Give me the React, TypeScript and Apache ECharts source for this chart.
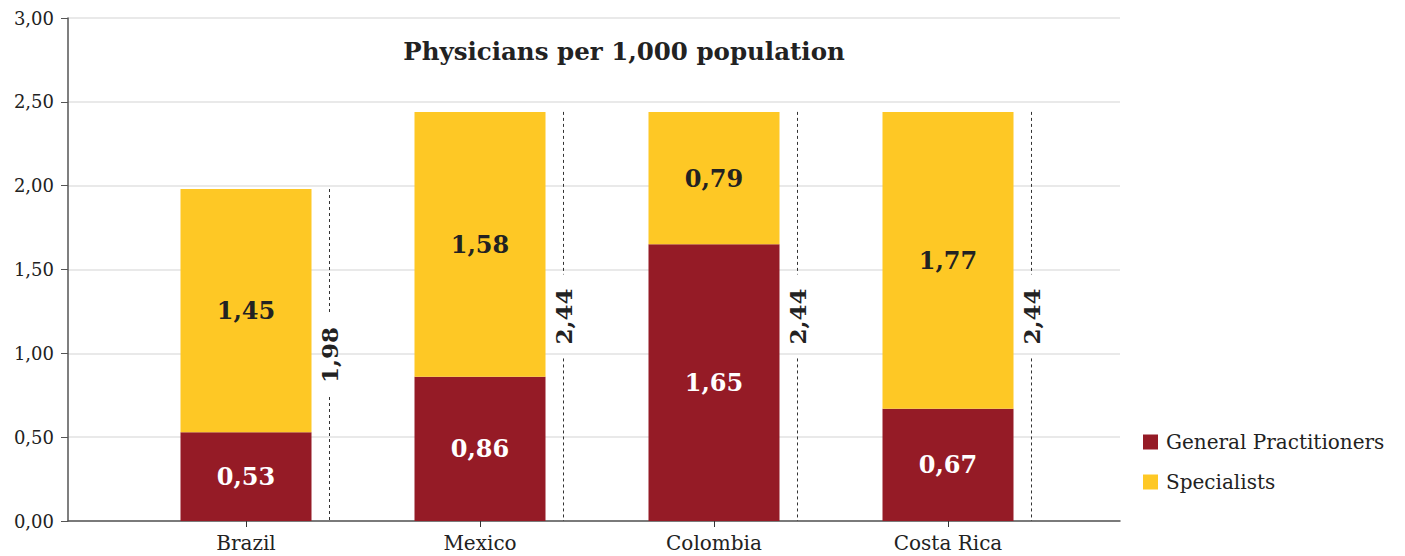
import React, { useEffect, useRef } from "react";
import * as echarts from "echarts";

// Physicians per 1,000 population, split by type
const countries = ["Brazil", "Mexico", "Colombia", "Costa Rica"];
const generalPractitioners = [0.53, 0.86, 1.65, 0.67];
const specialists = [1.45, 1.58, 0.79, 1.77];
const totals = countries.map((_, i) =>
  Math.round((generalPractitioners[i] + specialists[i]) * 100) / 100
);
const yTicks = [0, 0.5, 1, 1.5, 2, 2.5, 3];

const FONT = "'DejaVu Serif', 'Liberation Serif', serif";
const GP_COLOR = "#951b26";
const SPEC_COLOR = "#fec825";
const TEXT_DARK = "#222222";

const fmt = (v: number) => v.toFixed(2).replace(".", ",");

export default function App() {
  const ref = useRef<HTMLDivElement>(null);

  useEffect(() => {
    document.body.style.margin = "0";
    if (!ref.current) return;
    const chart = echarts.init(ref.current, null, { renderer: "svg" });

    const option: echarts.EChartsOption = {
      animation: false,
      backgroundColor: "#ffffff",
      textStyle: { fontFamily: FONT },
      graphic: [
        {
          type: "text",
          x: 624,
          y: 51,
          style: {
            text: "Physicians per 1,000 population",
            fontFamily: FONT,
            fontWeight: "bold",
            fontSize: 24.5,
            fill: TEXT_DARK,
            align: "center",
            verticalAlign: "middle",
          },
        },
      ],
      legend: {
        orient: "vertical",
        left: 1138,
        top: 427,
        itemWidth: 15,
        itemHeight: 15,
        itemGap: 20,
        icon: "rect",
        data: ["General Practitioners", "Specialists"],
        textStyle: { fontFamily: FONT, fontSize: 20, color: TEXT_DARK, padding: [0, 0, 0, 3] },
      },
      grid: [
        { left: 68, right: 285, top: 18, bottom: 35 },
        { left: 129, right: 340, top: 18, bottom: 35 },
      ],
      xAxis: [
        {
          gridIndex: 0,
          type: "value",
          min: 0,
          max: 1,
          axisLine: { show: true, lineStyle: { color: "#555555", width: 1.5 } },
          axisTick: { show: false },
          axisLabel: { show: false },
          splitLine: { show: false },
        },
        {
          gridIndex: 1,
          type: "category",
          data: countries,
          axisLine: { show: false },
          axisTick: { show: true, alignWithLabel: true, length: 6, lineStyle: { color: "#333333" } },
          axisLabel: { fontFamily: FONT, fontSize: 20, color: TEXT_DARK, margin: 12 },
        },
      ],
      yAxis: [
        {
          gridIndex: 0,
          type: "value",
          min: yTicks[0],
          max: yTicks[yTicks.length - 1],
          interval: 0.5,
          axisLine: { show: true, lineStyle: { color: "#555555", width: 1.5 } },
          axisTick: { show: true, length: 7, lineStyle: { color: "#555555" } },
          axisLabel: {
            fontFamily: FONT,
            fontSize: 18,
            color: TEXT_DARK,
            margin: 14,
            formatter: (v: number) => fmt(v),
          },
          splitLine: { show: true, lineStyle: { color: "#e2e2e2", width: 1.5 } },
        },
        {
          gridIndex: 1,
          type: "value",
          min: 0,
          max: 3,
          show: false,
        },
      ],
      series: [
        {
          name: "General Practitioners",
          type: "bar",
          stack: "total",
          xAxisIndex: 1,
          yAxisIndex: 1,
          barWidth: 131,
          itemStyle: { color: GP_COLOR },
          data: generalPractitioners,
          label: {
            show: true,
            position: "inside",
            fontFamily: FONT,
            fontWeight: "bold",
            fontSize: 24,
            color: "#ffffff",
            formatter: (p: any) => fmt(p.value),
          },
        },
        {
          name: "Specialists",
          type: "bar",
          stack: "total",
          xAxisIndex: 1,
          yAxisIndex: 1,
          barWidth: 131,
          itemStyle: { color: SPEC_COLOR },
          data: specialists,
          label: {
            show: true,
            position: "inside",
            fontFamily: FONT,
            fontWeight: "bold",
            fontSize: 24,
            color: TEXT_DARK,
            formatter: (p: any) => fmt(p.value),
          },
        },
        {
          name: "Total",
          type: "custom",
          xAxisIndex: 1,
          yAxisIndex: 1,
          z: 5,
          data: totals.map((t, i) => [i, t]),
          renderItem: (params: any, api: any) => {
            const idx = api.value(0);
            const total = api.value(1);
            const top = api.coord([idx, total]);
            const bottom = api.coord([idx, 0]);
            const x = Math.round(top[0] + 83) + 0.5;
            const mid = (top[1] + bottom[1]) / 2;
            const half = 42;
            const lineStyle = { stroke: "#333333", lineWidth: 1, lineDash: [3, 3] };
            return {
              type: "group",
              children: [
                {
                  type: "line",
                  shape: { x1: x, y1: top[1], x2: x, y2: mid - half },
                  style: lineStyle,
                },
                {
                  type: "line",
                  shape: { x1: x, y1: mid + half, x2: x, y2: bottom[1] },
                  style: lineStyle,
                },
                {
                  type: "text",
                  x: x,
                  y: mid,
                  rotation: Math.PI / 2,
                  style: {
                    text: fmt(total),
                    fontFamily: FONT,
                    fontWeight: "bold",
                    fontSize: 23,
                    fill: TEXT_DARK,
                    align: "center",
                    verticalAlign: "middle",
                  },
                },
              ],
            };
          },
        },
      ],
    };

    chart.setOption(option);
    return () => chart.dispose();
  }, []);

  return <div ref={ref} style={{ width: 1405, height: 556 }} />;
}
